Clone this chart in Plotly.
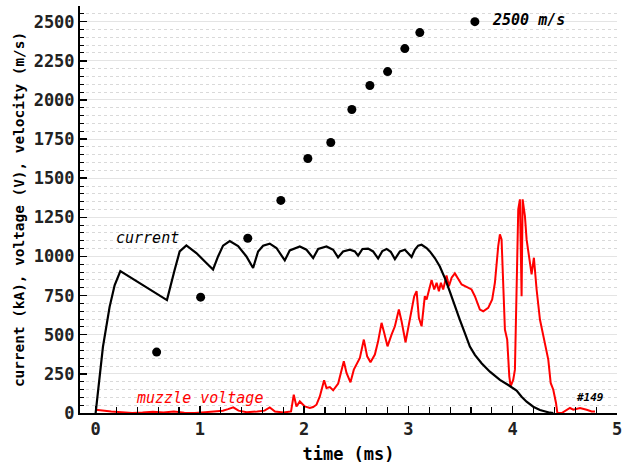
import plotly.graph_objects as go

# ---- data ----
vel_t = [0.585, 1.007, 1.459, 1.776, 2.035, 2.255, 2.457, 2.630, 2.800, 2.965, 3.109, 3.637]
vel_v = [389, 740, 1116, 1358, 1626, 1728, 1939, 2092, 2181, 2328, 2430, 2500]

cur_t = [0.0, 0.07, 0.134, 0.182, 0.237, 0.684, 0.758, 0.806, 0.870, 0.966, 1.062, 1.126,
         1.174, 1.222, 1.286, 1.366, 1.446, 1.510,
         1.558, 1.606, 1.670, 1.734, 1.814,
         1.862, 1.958, 2.022, 2.086,
         2.134, 2.214, 2.278, 2.325,
         2.373, 2.438, 2.486, 2.517,
         2.559, 2.613, 2.661, 2.709,
         2.750, 2.790, 2.830, 2.870,
         2.918, 2.966, 3.030,
         3.061, 3.093, 3.126, 3.174, 3.205, 3.253, 3.301, 3.349, 3.397, 3.445, 3.493,
         3.541, 3.589, 3.637, 3.701, 3.781, 3.877, 3.957, 4.005, 4.037, 4.085, 4.133,
         4.197, 4.261, 4.357, 4.39]
cur_v = [0, 423, 678, 816, 907, 721, 915, 1032, 1071, 1022, 958, 917,
         1000, 1069, 1098, 1066, 1000, 926,
         1032, 1069, 1082, 1054, 975,
         1039, 1064, 1043, 990,
         1048, 1064, 1043, 994,
         1032, 1043, 1032, 1005,
         1048, 1050, 1032, 987,
         1035, 1048, 1030, 983,
         1032, 1043, 997,
         1043, 1069, 1075, 1054, 1032, 990, 936, 862, 776, 680, 595,
         510, 424, 371, 318, 264, 211, 179, 158, 143, 104, 72,
         40, 19, 2, 0]

mv_t = [0.0, 0.05, 0.15, 0.25, 0.35, 0.45, 0.55, 0.65, 0.75, 0.85, 0.95, 1.05, 1.15,
        1.22, 1.27, 1.32, 1.37, 1.45, 1.55, 1.62, 1.67, 1.72, 1.80,
        1.874, 1.900, 1.926, 1.958, 2.006, 2.054, 2.086, 2.118, 2.150, 2.191, 2.214,
        2.246, 2.278, 2.326, 2.380, 2.406, 2.444, 2.476, 2.534, 2.572, 2.604, 2.636,
        2.678, 2.709, 2.742, 2.767, 2.799, 2.838, 2.870, 2.908, 2.934, 2.972, 3.013,
        3.055, 3.078, 3.100, 3.126, 3.157, 3.174, 3.222, 3.247, 3.270, 3.292, 3.311,
        3.333, 3.365, 3.388, 3.414, 3.445, 3.477, 3.510, 3.557, 3.605, 3.637, 3.685,
        3.717, 3.765, 3.803, 3.829, 3.861, 3.877, 3.893, 3.909, 3.925, 3.947, 3.967,
        3.980, 4.005, 4.021, 4.037, 4.053, 4.069, 4.085, 4.095, 4.117, 4.133, 4.165,
        4.181, 4.203, 4.229, 4.261, 4.293, 4.319, 4.341, 4.364, 4.389, 4.415, 4.428,
        4.470, 4.517, 4.549, 4.581, 4.645, 4.709, 4.757, 4.789]
mv_v = [20, 18, 10, 5, 0, 3, 8, 3, 10, 2, 0, 5, 10,
        15, 25, 36, 15, 5, 10, 15, 36, 10, 3,
        10, 117, 42, 74, 42, 32, 38, 53, 106, 209, 160,
        166, 145, 188, 330, 256, 196, 277, 352, 469, 362, 324,
        373, 458, 576, 512, 426, 501, 554, 661, 586, 452, 597,
        746, 778, 608, 554, 746, 725, 849, 789, 832, 778, 832,
        789, 879, 810, 864, 892, 853, 821, 806, 789, 746, 661,
        650, 672, 725, 832, 1066, 1141, 1109, 789, 533, 469, 234,
        170, 213, 277, 789, 1301, 1365, 746, 1365, 1258, 1109, 938,
        885, 992, 789, 597, 490, 426, 341, 192, 149, 64, 0,
        0, 21, 32, 21, 32, 21, 10, 10]

y_ticks = list(range(0, 2501, 250))
x_ticks = [0, 1, 2, 3, 4, 5]

MONO = "DejaVu Sans Mono"

fig = go.Figure()
fig.add_trace(go.Scatter(x=mv_t, y=mv_v, mode="lines",
                         line=dict(color="#ff0000", width=2), showlegend=False))
fig.add_trace(go.Scatter(x=cur_t, y=cur_v, mode="lines",
                         line=dict(color="#000000", width=2.2), showlegend=False))
fig.add_trace(go.Scatter(x=vel_t, y=vel_v, mode="markers",
                         marker=dict(color="#000000", size=9), showlegend=False))

fig.add_annotation(x=0.5, y=1120, text="current", showarrow=False,
                   font=dict(family=MONO, size=15, color="black", style="italic"))
fig.add_annotation(x=1.0, y=95, text="muzzle voltage", showarrow=False,
                   font=dict(family=MONO, size=15, color="#ff0000", style="italic"))
fig.add_annotation(x=3.78, y=2510, text="2500 m/s", showarrow=False, xanchor="left",
                   font=dict(family=MONO, size=15, color="black", style="italic", weight="bold"))
fig.add_annotation(x=4.74, y=98, text="#149", showarrow=False,
                   font=dict(family=MONO, size=11, color="black", style="italic", weight="bold"))

fig.update_layout(
    width=636, height=468,
    margin=dict(l=80, r=19, t=6, b=55),
    paper_bgcolor="white", plot_bgcolor="white",
    font=dict(family=MONO, color="#222222"),
    hovermode=False,
    xaxis=dict(range=[-0.15, 5], tickvals=x_ticks, showgrid=False, zeroline=False,
               automargin=False,
               showline=True, linecolor="black", linewidth=2,
               ticks="inside", ticklen=7, tickwidth=1.5, tickcolor="black",
               tickfont=dict(family=MONO, size=17, weight="bold", color="#222222"),
               minor=dict(dtick=0.2, tick0=0, ticks="inside", ticklen=6,
                          tickwidth=1.2, tickcolor="black", showgrid=False),
               title=dict(text="time (ms)", standoff=10,
                          font=dict(family=MONO, size=17, weight="bold", color="black"))),
    yaxis=dict(range=[0, 2600], tickvals=y_ticks, showgrid=True, gridcolor="#e4e4e4",
               gridwidth=1, zeroline=False, automargin=False,
               showline=True, linecolor="black", linewidth=2,
               ticks="inside", ticklen=7, tickwidth=1.5, tickcolor="black",
               tickfont=dict(family=MONO, size=17, weight="bold", color="#222222"),
               minor=dict(dtick=50, tick0=0, ticks="inside", ticklen=4, tickwidth=1,
                          tickcolor="black", showgrid=True, gridcolor="#d9d9d9",
                          griddash="dot", gridwidth=1),
               title=dict(text="current (kA), voltage (V), velocity (m/s)", standoff=6,
                          font=dict(family=MONO, size=14.4, weight="bold", color="black"))),
)

fig.write_html("out.html", config={"displayModeBar": False, "staticPlot": True},
               post_script="document.body.style.margin='0px';document.body.style.padding='0px';")
